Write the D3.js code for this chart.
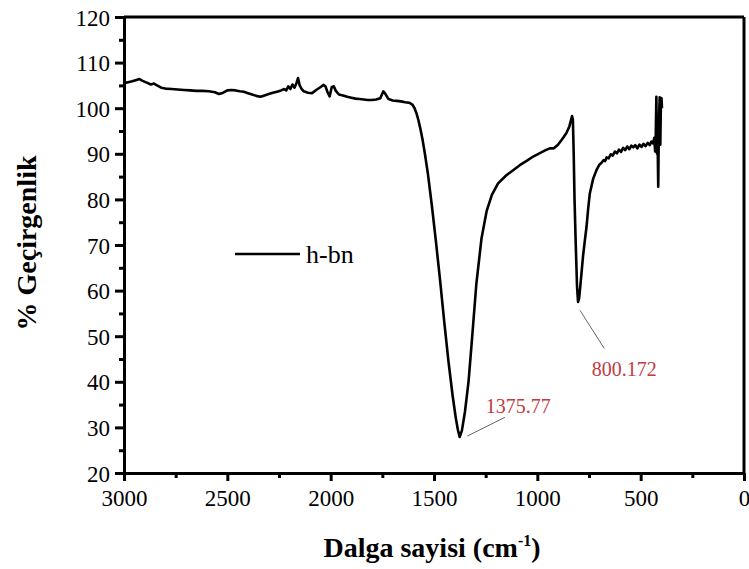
<!DOCTYPE html>
<html>
<head>
<meta charset="utf-8">
<script src="https://cdn.jsdelivr.net/npm/d3@7"></script>
<style>
  html, body { margin: 0; padding: 0; background: #fff; }
  svg text { font-family: "Liberation Serif", "Times New Roman", serif; }
</style>
</head>
<body>
<svg id="chart" width="749" height="569"></svg>
<script>
/* FTIR spectrum of h-BN: transmittance (%) vs wavenumber (cm-1).
   Values.                          */

// wavenumber (cm-1), descending
var waveNumbers = [
  3000, 2980, 2960, 2940, 2925, 2910, 2890, 2870, 2855, 2840, 2820, 2800,
  2770, 2740, 2710, 2680, 2650, 2620, 2590, 2560, 2540, 2520, 2500, 2480,
  2460, 2440, 2420, 2400, 2380, 2360, 2340, 2320, 2300, 2280, 2260, 2240,
  2225, 2215, 2205, 2195, 2185, 2175, 2165, 2158, 2150, 2140, 2130, 2110,
  2090, 2070, 2050, 2035, 2025, 2015, 2005, 1995, 1985, 1975, 1960, 1940,
  1920, 1900, 1880, 1860, 1840, 1820, 1800, 1780, 1760, 1745, 1735, 1720,
  1700, 1680, 1660, 1640, 1620, 1605, 1595, 1585, 1575, 1565, 1555, 1545,
  1530, 1510, 1490, 1470, 1450, 1430, 1410, 1395, 1385, 1376, 1365, 1350,
  1333, 1315, 1295, 1270, 1245, 1220, 1190, 1150, 1117, 1085, 1050, 1020,
  990, 960, 940, 920, 900, 880, 860, 845, 832, 828, 824, 820,
  814, 808, 803, 798, 792, 785, 779, 770, 762, 754, 746, 730,
  714, 700, 690, 680, 672, 665, 655, 645, 635, 625, 615, 605,
  595, 585, 575, 565, 555, 545, 536, 526, 516, 506, 496, 486,
  476, 466, 456, 448, 440, 434, 430, 427, 424, 421, 418, 415,
  412, 408, 405, 402, 399, 397
];

// % transmittance, same order
var transmittance = [
  105.5, 105.7, 105.9, 106.2, 106.4, 106.0, 105.6, 105.2, 105.4, 105.0, 104.5, 104.3,
  104.2, 104.1, 104.0, 103.9, 103.8, 103.8, 103.7, 103.5, 103.1, 103.4, 103.9, 104.0,
  103.9, 103.7, 103.6, 103.3, 103.0, 102.7, 102.5, 102.8, 103.1, 103.4, 103.6, 103.9,
  104.2, 103.9, 104.8, 104.2, 105.2, 104.5, 105.6, 106.6, 105.0, 104.2, 103.7, 103.4,
  103.3, 104.0, 104.6, 105.1, 104.8, 103.5, 102.6, 104.6, 104.8, 103.8, 103.0, 102.8,
  102.5, 102.3, 102.1, 102.0, 101.9, 101.8, 101.8, 101.9, 102.2, 103.7, 103.1, 102.0,
  101.7, 101.6, 101.5, 101.3, 101.2, 100.8, 100.1, 98.9, 97.3, 95.3, 93.0, 90.3,
  85.8, 78.5, 70.5, 62.0, 53.0, 44.5, 37.0, 32.2, 29.6, 27.9, 29.3, 33.5,
  40.0, 50.0, 61.5, 71.5, 77.5, 81.0, 83.5, 85.3, 86.4, 87.5, 88.5, 89.4,
  90.1, 90.8, 91.2, 91.2, 92.0, 93.2, 94.5, 96.0, 98.3, 97.5, 90.0, 80.0,
  70.0, 61.0, 57.5, 58.3, 61.0, 64.5, 67.5, 71.0, 74.0, 78.0, 81.3, 84.5,
  86.4, 87.6, 88.0, 88.6, 88.4, 89.2, 89.0, 89.9, 89.6, 90.5, 90.1, 90.9,
  90.4, 91.3, 90.8, 91.6, 91.0, 91.8, 91.4, 91.9, 91.2, 92.0, 91.5, 92.2,
  91.7, 92.4, 91.9, 92.7, 92.3, 93.5, 90.5, 94.0, 102.5, 90.0, 93.0, 82.8,
  96.0, 102.4, 92.0, 101.5, 102.2, 100.0
];

var series = waveNumbers.map(function (w, i) { return { w: w, t: transmittance[i] }; });

// axis ticks
var xMajorTicks = [3000, 2500, 2000, 1500, 1000, 500, 0];
var xMinorTicks = [2750, 2250, 1750, 1250, 750, 250];
var yMajorTicks = [20, 30, 40, 50, 60, 70, 80, 90, 100, 110, 120];
var yMinorTicks = [25, 35, 45, 55, 65, 75, 85, 95, 105, 115];

// peak labels: leader line ends and text anchor in data units
var peakLabels  = ['1375.77', '800.172'];
var peakLineW1  = [1339, 794];
var peakLineT1  = [28.1, 55.7];
var peakLineW2  = [1157, 676];
var peakLineT2  = [32.2, 47.3];
var peakTextW   = [1249, 737];
var peakTextT   = [33.2, 41.3];

var legendLabel = 'h-bn';

(function () {
  'use strict';
  var W = 749, H = 569;
  var margin = { top: 17, right: 5, bottom: 96, left: 124 };
  var iw = W - margin.left - margin.right;
  var ih = H - margin.top - margin.bottom;

  var svg = d3.select('#chart');
  var g = svg.append('g').attr('transform', 'translate(' + margin.left + ',' + margin.top + ')');

  var x = d3.scaleLinear().domain([3000, 0]).range([0, iw]);
  var y = d3.scaleLinear().domain([20, 120]).range([ih, 0]);

  /* ---- spectrum ---- */
  var line = d3.line().x(function (d) { return x(d.w); }).y(function (d) { return y(d.t); });
  g.append('path').datum(series)
    .attr('d', line).attr('fill', 'none')
    .attr('stroke', '#000').attr('stroke-width', 2.6)
    .attr('stroke-linejoin', 'round');

  /* ---- frame (top + right, no ticks) ---- */
  g.append('line').attr('x1', 0).attr('x2', iw).attr('y1', 0).attr('y2', 0)
    .attr('stroke', '#000').attr('stroke-width', 3);
  g.append('line').attr('x1', iw).attr('x2', iw).attr('y1', 0).attr('y2', ih)
    .attr('stroke', '#000').attr('stroke-width', 3);

  /* ---- bottom axis ---- */
  var xAxis = g.append('g').attr('transform', 'translate(0,' + ih + ')')
    .call(d3.axisBottom(x).tickValues(xMajorTicks).tickSize(8).tickSizeOuter(0).tickPadding(5)
      .tickFormat(d3.format('d')));
  g.append('g').attr('transform', 'translate(0,' + ih + ')')
    .call(d3.axisBottom(x).tickValues(xMinorTicks).tickSize(5).tickSizeOuter(0).tickFormat(''))
    .select('.domain').remove();

  /* ---- left axis ---- */
  var yAxis = g.append('g')
    .call(d3.axisLeft(y).tickValues(yMajorTicks).tickSize(9).tickSizeOuter(0).tickPadding(5)
      .tickFormat(d3.format('d')));
  g.append('g')
    .call(d3.axisLeft(y).tickValues(yMinorTicks).tickSize(5).tickSizeOuter(0).tickFormat(''))
    .select('.domain').remove();

  g.selectAll('.domain').attr('stroke', '#000').attr('stroke-width', 3);
  g.selectAll('.tick line').attr('stroke', '#000').attr('stroke-width', 3);
  g.selectAll('.tick text').attr('fill', '#000').style('font-size', '23px')
    .style('font-family', '"Liberation Serif", "Times New Roman", serif');
  xAxis.selectAll('.tick text').attr('dy', '0.85em');
  yAxis.selectAll('.tick text').attr('dy', '0.35em');

  /* ---- axis titles ---- */
  var xt = svg.append('text')
    .attr('x', margin.left + iw / 2 - 2).attr('y', 557)
    .attr('text-anchor', 'middle')
    .style('font-size', '28px').style('font-weight', 'bold');
  xt.append('tspan').text('Dalga sayisi (cm');
  xt.append('tspan').attr('dy', -11).style('font-size', '16px').text('-1');
  xt.append('tspan').attr('dy', 11).text(')');

  svg.append('text')
    .attr('transform', 'translate(36,' + (margin.top + ih / 2 - 2) + ') rotate(-90)')
    .attr('text-anchor', 'middle')
    .style('font-size', '28px').style('font-weight', 'bold')
    .text('% Geçirgenlik');

  /* ---- legend ---- */
  var lg = g.append('g').attr('transform', 'translate(' + (235 - margin.left) + ',' + (254 - margin.top) + ')');
  lg.append('line').attr('x1', 0).attr('x2', 65).attr('y1', 0).attr('y2', 0)
    .attr('stroke', '#000').attr('stroke-width', 2.6);
  lg.append('text').attr('x', 71).attr('y', 9)
    .style('font-size', '26px').attr('fill', '#000').text(legendLabel);

  /* ---- peak annotations ---- */
  peakLabels.forEach(function (lab, i) {
    g.append('line')
      .attr('x1', x(peakLineW1[i])).attr('y1', y(peakLineT1[i]))
      .attr('x2', x(peakLineW2[i])).attr('y2', y(peakLineT2[i]))
      .attr('stroke', '#666').attr('stroke-width', 1);
    g.append('text')
      .attr('x', x(peakTextW[i])).attr('y', y(peakTextT[i]))
      .attr('fill', '#c23a3f').style('font-size', '20px')
      .text(lab);
  });
})();
</script>
</body>
</html>
